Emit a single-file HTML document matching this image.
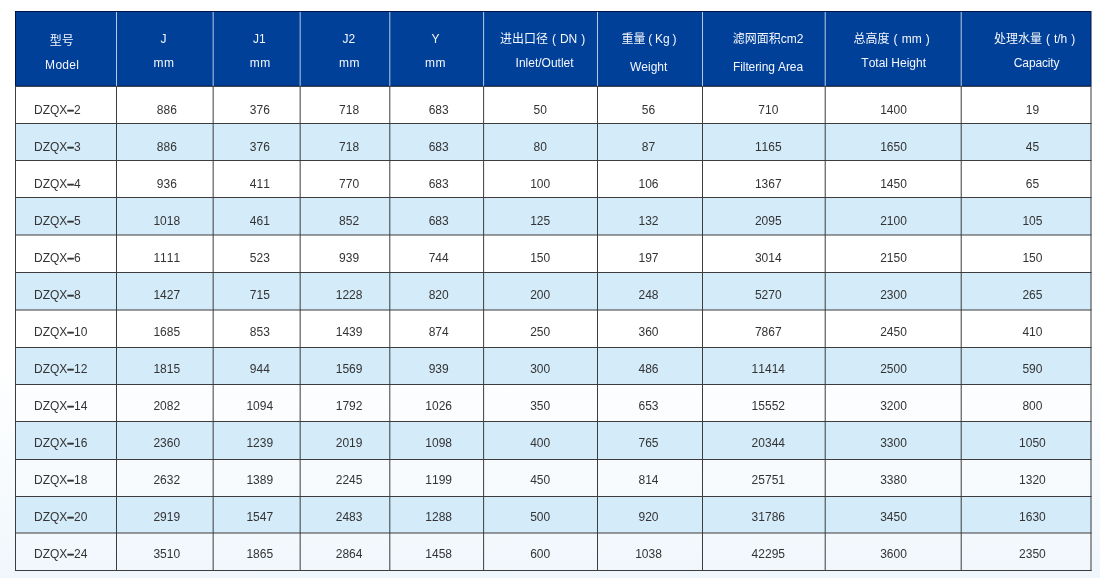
<!DOCTYPE html>
<html lang="zh-CN">
<head>
<meta charset="utf-8">
<title>DZQX</title>
<style>
html,body{margin:0;padding:0;}
body{width:1100px;height:578px;overflow:hidden;background:#fff;position:relative;font-family:"Liberation Sans", "Noto Sans CJK SC", sans-serif;}
#bg{position:absolute;left:0;top:0;width:1100px;height:578px;display:block;}
.t{position:absolute;white-space:nowrap;font-size:12px;line-height:14px;height:14px;color:#333333;transform:translateX(-50%);text-align:center;font-kerning:none;}
.m{transform:none;text-align:left;}
.h{color:#f4f7fc;}
.t b{font-weight:bold;-webkit-text-stroke:0.5px #333333;}
#tx{position:absolute;left:0;top:0;width:1100px;height:578px;will-change:transform;}
</style>
</head>
<body>
<svg id="bg" width="1100" height="578" viewBox="0 0 1100 578">
<defs><linearGradient id="g" x1="0" y1="0" x2="0" y2="1"><stop offset="0" stop-color="#ffffff"/><stop offset="0.62" stop-color="#ffffff"/><stop offset="1" stop-color="#f0f7fc"/></linearGradient></defs>
<rect x="0" y="0" width="1100" height="578" fill="url(#g)"/>
<rect x="15.00" y="123.50" width="1076.50" height="37.00" fill="#d4ebf9"/>
<rect x="15.00" y="197.50" width="1076.50" height="37.50" fill="#d4ebf9"/>
<rect x="15.00" y="272.50" width="1076.50" height="37.50" fill="#d4ebf9"/>
<rect x="15.00" y="347.50" width="1076.50" height="37.00" fill="#d4ebf9"/>
<rect x="15.00" y="421.50" width="1076.50" height="38.00" fill="#d4ebf9"/>
<rect x="15.00" y="496.50" width="1076.50" height="36.50" fill="#d4ebf9"/>
<rect x="15.00" y="11.00" width="1076.50" height="75.50" fill="#00124a"/>
<rect x="16.00" y="12.00" width="1074.50" height="73.70" fill="#004098"/>
<rect x="116.00" y="12.00" width="1" height="74.00" fill="#ffffff" fill-opacity="0.72"/>
<rect x="212.65" y="12.00" width="1" height="74.00" fill="#ffffff" fill-opacity="0.72"/>
<rect x="299.65" y="12.00" width="1" height="74.00" fill="#ffffff" fill-opacity="0.72"/>
<rect x="389.30" y="12.00" width="1" height="74.00" fill="#ffffff" fill-opacity="0.72"/>
<rect x="483.10" y="12.00" width="1" height="74.00" fill="#ffffff" fill-opacity="0.72"/>
<rect x="597.00" y="12.00" width="1" height="74.00" fill="#ffffff" fill-opacity="0.72"/>
<rect x="702.00" y="12.00" width="1" height="74.00" fill="#ffffff" fill-opacity="0.72"/>
<rect x="824.70" y="12.00" width="1" height="74.00" fill="#ffffff" fill-opacity="0.72"/>
<rect x="960.70" y="12.00" width="1" height="74.00" fill="#ffffff" fill-opacity="0.72"/>
<rect x="15.00" y="85.90" width="1076.50" height="0.8" fill="#1c1c1c" fill-opacity="0.85"/>
<rect x="15.00" y="123.00" width="1076.50" height="1" fill="#3d3d3d"/>
<rect x="15.00" y="160.00" width="1076.50" height="1" fill="#3d3d3d"/>
<rect x="15.00" y="197.00" width="1076.50" height="1" fill="#3d3d3d"/>
<rect x="15.00" y="234.50" width="1076.50" height="1" fill="#3d3d3d"/>
<rect x="15.00" y="272.00" width="1076.50" height="1" fill="#3d3d3d"/>
<rect x="15.00" y="309.50" width="1076.50" height="1" fill="#3d3d3d"/>
<rect x="15.00" y="347.00" width="1076.50" height="1" fill="#3d3d3d"/>
<rect x="15.00" y="384.00" width="1076.50" height="1" fill="#3d3d3d"/>
<rect x="15.00" y="421.00" width="1076.50" height="1" fill="#3d3d3d"/>
<rect x="15.00" y="459.00" width="1076.50" height="1" fill="#3d3d3d"/>
<rect x="15.00" y="496.00" width="1076.50" height="1" fill="#3d3d3d"/>
<rect x="15.00" y="532.50" width="1076.50" height="1" fill="#3d3d3d"/>
<rect x="15.00" y="570.00" width="1076.50" height="1" fill="#3d3d3d"/>
<rect x="15.00" y="87.00" width="1" height="484.00" fill="#3d3d3d"/>
<rect x="116.00" y="87.00" width="1" height="484.00" fill="#3d3d3d"/>
<rect x="212.65" y="87.00" width="1" height="484.00" fill="#3d3d3d"/>
<rect x="299.65" y="87.00" width="1" height="484.00" fill="#3d3d3d"/>
<rect x="389.30" y="87.00" width="1" height="484.00" fill="#3d3d3d"/>
<rect x="483.10" y="87.00" width="1" height="484.00" fill="#3d3d3d"/>
<rect x="597.00" y="87.00" width="1" height="484.00" fill="#3d3d3d"/>
<rect x="702.00" y="87.00" width="1" height="484.00" fill="#3d3d3d"/>
<rect x="824.70" y="87.00" width="1" height="484.00" fill="#3d3d3d"/>
<rect x="960.70" y="87.00" width="1" height="484.00" fill="#3d3d3d"/>
<rect x="1090.50" y="87.00" width="1" height="484.00" fill="#3d3d3d"/>
</svg>
<div id="tx">
<div class="t h" style="left:61.7px;top:34.44px">型号</div>
<div class="t h" style="left:62.2px;top:57.94px;letter-spacing:0.3px">Model</div>
<div class="t h" style="left:163.6px;top:32.14px">J</div>
<div class="t h" style="left:163.9px;top:55.54px;letter-spacing:0.5px">mm</div>
<div class="t h" style="left:259.3px;top:31.74px">J1</div>
<div class="t h" style="left:260.2px;top:55.54px;letter-spacing:0.5px">mm</div>
<div class="t h" style="left:348.9px;top:31.74px">J2</div>
<div class="t h" style="left:349.4px;top:55.54px;letter-spacing:0.5px">mm</div>
<div class="t h" style="left:435.5px;top:31.74px">Y</div>
<div class="t h" style="left:435.5px;top:55.54px;letter-spacing:0.5px">mm</div>
<div class="t h" style="left:542.6px;top:31.84px;word-spacing:0.6px">进出口径 ( DN )</div>
<div class="t h" style="left:544.6px;top:55.84px">Inlet/Outlet</div>
<div class="t h" style="left:649.0px;top:31.84px;word-spacing:-0.6px">重量 ( Kg )</div>
<div class="t h" style="left:648.7px;top:60.24px">Weight</div>
<div class="t h" style="left:768.0px;top:32.04px">滤网面积cm2</div>
<div class="t h" style="left:768.0px;top:60.34px;letter-spacing:-0.1px">Filtering Area</div>
<div class="t h" style="left:891.6px;top:32.04px;word-spacing:0.8px">总高度 ( mm )</div>
<div class="t h" style="left:893.7px;top:55.64px">Total Height</div>
<div class="t h" style="left:1034.6px;top:31.84px;word-spacing:0.6px">处理水量 ( t/h )</div>
<div class="t h" style="left:1036.6px;top:55.64px;letter-spacing:-0.15px">Capacity</div>
<div class="t m" style="left:34.0px;top:102.99px">DZQX<b>–</b>2</div>
<div class="t" style="left:166.8px;top:102.99px">886</div>
<div class="t" style="left:259.8px;top:102.99px">376</div>
<div class="t" style="left:349.1px;top:102.99px">718</div>
<div class="t" style="left:438.7px;top:102.99px">683</div>
<div class="t" style="left:540.2px;top:102.99px">50</div>
<div class="t" style="left:648.5px;top:102.99px">56</div>
<div class="t" style="left:768.3px;top:102.99px">710</div>
<div class="t" style="left:893.5px;top:102.99px">1400</div>
<div class="t" style="left:1032.4px;top:102.99px">19</div>
<div class="t m" style="left:34.0px;top:139.99px">DZQX<b>–</b>3</div>
<div class="t" style="left:166.8px;top:139.99px">886</div>
<div class="t" style="left:259.8px;top:139.99px">376</div>
<div class="t" style="left:349.1px;top:139.99px">718</div>
<div class="t" style="left:438.7px;top:139.99px">683</div>
<div class="t" style="left:540.2px;top:139.99px">80</div>
<div class="t" style="left:648.5px;top:139.99px">87</div>
<div class="t" style="left:768.3px;top:139.99px">1165</div>
<div class="t" style="left:893.5px;top:139.99px">1650</div>
<div class="t" style="left:1032.4px;top:139.99px">45</div>
<div class="t m" style="left:34.0px;top:176.99px">DZQX<b>–</b>4</div>
<div class="t" style="left:166.8px;top:176.99px">936</div>
<div class="t" style="left:259.8px;top:176.99px">411</div>
<div class="t" style="left:349.1px;top:176.99px">770</div>
<div class="t" style="left:438.7px;top:176.99px">683</div>
<div class="t" style="left:540.2px;top:176.99px">100</div>
<div class="t" style="left:648.5px;top:176.99px">106</div>
<div class="t" style="left:768.3px;top:176.99px">1367</div>
<div class="t" style="left:893.5px;top:176.99px">1450</div>
<div class="t" style="left:1032.4px;top:176.99px">65</div>
<div class="t m" style="left:34.0px;top:213.99px">DZQX<b>–</b>5</div>
<div class="t" style="left:166.8px;top:213.99px">1018</div>
<div class="t" style="left:259.8px;top:213.99px">461</div>
<div class="t" style="left:349.1px;top:213.99px">852</div>
<div class="t" style="left:438.7px;top:213.99px">683</div>
<div class="t" style="left:540.2px;top:213.99px">125</div>
<div class="t" style="left:648.5px;top:213.99px">132</div>
<div class="t" style="left:768.3px;top:213.99px">2095</div>
<div class="t" style="left:893.5px;top:213.99px">2100</div>
<div class="t" style="left:1032.4px;top:213.99px">105</div>
<div class="t m" style="left:34.0px;top:250.99px">DZQX<b>–</b>6</div>
<div class="t" style="left:166.8px;top:250.99px">1111</div>
<div class="t" style="left:259.8px;top:250.99px">523</div>
<div class="t" style="left:349.1px;top:250.99px">939</div>
<div class="t" style="left:438.7px;top:250.99px">744</div>
<div class="t" style="left:540.2px;top:250.99px">150</div>
<div class="t" style="left:648.5px;top:250.99px">197</div>
<div class="t" style="left:768.3px;top:250.99px">3014</div>
<div class="t" style="left:893.5px;top:250.99px">2150</div>
<div class="t" style="left:1032.4px;top:250.99px">150</div>
<div class="t m" style="left:34.0px;top:287.99px">DZQX<b>–</b>8</div>
<div class="t" style="left:166.8px;top:287.99px">1427</div>
<div class="t" style="left:259.8px;top:287.99px">715</div>
<div class="t" style="left:349.1px;top:287.99px">1228</div>
<div class="t" style="left:438.7px;top:287.99px">820</div>
<div class="t" style="left:540.2px;top:287.99px">200</div>
<div class="t" style="left:648.5px;top:287.99px">248</div>
<div class="t" style="left:768.3px;top:287.99px">5270</div>
<div class="t" style="left:893.5px;top:287.99px">2300</div>
<div class="t" style="left:1032.4px;top:287.99px">265</div>
<div class="t m" style="left:34.0px;top:324.99px">DZQX<b>–</b>10</div>
<div class="t" style="left:166.8px;top:324.99px">1685</div>
<div class="t" style="left:259.8px;top:324.99px">853</div>
<div class="t" style="left:349.1px;top:324.99px">1439</div>
<div class="t" style="left:438.7px;top:324.99px">874</div>
<div class="t" style="left:540.2px;top:324.99px">250</div>
<div class="t" style="left:648.5px;top:324.99px">360</div>
<div class="t" style="left:768.3px;top:324.99px">7867</div>
<div class="t" style="left:893.5px;top:324.99px">2450</div>
<div class="t" style="left:1032.4px;top:324.99px">410</div>
<div class="t m" style="left:34.0px;top:361.99px">DZQX<b>–</b>12</div>
<div class="t" style="left:166.8px;top:361.99px">1815</div>
<div class="t" style="left:259.8px;top:361.99px">944</div>
<div class="t" style="left:349.1px;top:361.99px">1569</div>
<div class="t" style="left:438.7px;top:361.99px">939</div>
<div class="t" style="left:540.2px;top:361.99px">300</div>
<div class="t" style="left:648.5px;top:361.99px">486</div>
<div class="t" style="left:768.3px;top:361.99px">11414</div>
<div class="t" style="left:893.5px;top:361.99px">2500</div>
<div class="t" style="left:1032.4px;top:361.99px">590</div>
<div class="t m" style="left:34.0px;top:398.99px">DZQX<b>–</b>14</div>
<div class="t" style="left:166.8px;top:398.99px">2082</div>
<div class="t" style="left:259.8px;top:398.99px">1094</div>
<div class="t" style="left:349.1px;top:398.99px">1792</div>
<div class="t" style="left:438.7px;top:398.99px">1026</div>
<div class="t" style="left:540.2px;top:398.99px">350</div>
<div class="t" style="left:648.5px;top:398.99px">653</div>
<div class="t" style="left:768.3px;top:398.99px">15552</div>
<div class="t" style="left:893.5px;top:398.99px">3200</div>
<div class="t" style="left:1032.4px;top:398.99px">800</div>
<div class="t m" style="left:34.0px;top:435.99px">DZQX<b>–</b>16</div>
<div class="t" style="left:166.8px;top:435.99px">2360</div>
<div class="t" style="left:259.8px;top:435.99px">1239</div>
<div class="t" style="left:349.1px;top:435.99px">2019</div>
<div class="t" style="left:438.7px;top:435.99px">1098</div>
<div class="t" style="left:540.2px;top:435.99px">400</div>
<div class="t" style="left:648.5px;top:435.99px">765</div>
<div class="t" style="left:768.3px;top:435.99px">20344</div>
<div class="t" style="left:893.5px;top:435.99px">3300</div>
<div class="t" style="left:1032.4px;top:435.99px">1050</div>
<div class="t m" style="left:34.0px;top:472.99px">DZQX<b>–</b>18</div>
<div class="t" style="left:166.8px;top:472.99px">2632</div>
<div class="t" style="left:259.8px;top:472.99px">1389</div>
<div class="t" style="left:349.1px;top:472.99px">2245</div>
<div class="t" style="left:438.7px;top:472.99px">1199</div>
<div class="t" style="left:540.2px;top:472.99px">450</div>
<div class="t" style="left:648.5px;top:472.99px">814</div>
<div class="t" style="left:768.3px;top:472.99px">25751</div>
<div class="t" style="left:893.5px;top:472.99px">3380</div>
<div class="t" style="left:1032.4px;top:472.99px">1320</div>
<div class="t m" style="left:34.0px;top:509.99px">DZQX<b>–</b>20</div>
<div class="t" style="left:166.8px;top:509.99px">2919</div>
<div class="t" style="left:259.8px;top:509.99px">1547</div>
<div class="t" style="left:349.1px;top:509.99px">2483</div>
<div class="t" style="left:438.7px;top:509.99px">1288</div>
<div class="t" style="left:540.2px;top:509.99px">500</div>
<div class="t" style="left:648.5px;top:509.99px">920</div>
<div class="t" style="left:768.3px;top:509.99px">31786</div>
<div class="t" style="left:893.5px;top:509.99px">3450</div>
<div class="t" style="left:1032.4px;top:509.99px">1630</div>
<div class="t m" style="left:34.0px;top:546.99px">DZQX<b>–</b>24</div>
<div class="t" style="left:166.8px;top:546.99px">3510</div>
<div class="t" style="left:259.8px;top:546.99px">1865</div>
<div class="t" style="left:349.1px;top:546.99px">2864</div>
<div class="t" style="left:438.7px;top:546.99px">1458</div>
<div class="t" style="left:540.2px;top:546.99px">600</div>
<div class="t" style="left:648.5px;top:546.99px">1038</div>
<div class="t" style="left:768.3px;top:546.99px">42295</div>
<div class="t" style="left:893.5px;top:546.99px">3600</div>
<div class="t" style="left:1032.4px;top:546.99px">2350</div>
</div>
</body>
</html>
